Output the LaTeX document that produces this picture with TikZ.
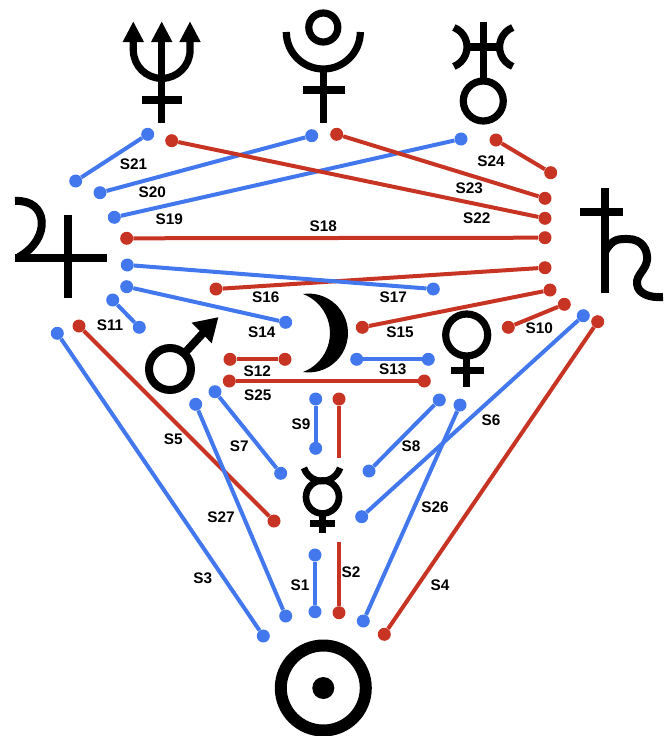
\documentclass[tikz,border=0pt]{standalone}
\usepackage{fontspec}
\setmainfont{Liberation Sans}
\definecolor{sblue}{RGB}{66,119,237}
\definecolor{sred}{RGB}{200,52,36}
\tikzset{
  bdot/.style={circle, fill=sblue, inner sep=0pt, minimum size=9.75pt},
  rdot/.style={circle, fill=sred, inner sep=0pt, minimum size=9.75pt},
  bline/.style={sblue, line width=3pt},
  rline/.style={sred, line width=3pt},
  lab/.style={font=\fontsize{11.5}{13}\selectfont\bfseries, inner sep=0pt},
  glyph/.style={line width=5.4pt, black}
}
\begin{document}
\begin{tikzpicture}[x=0.75pt, y=-0.75pt]
    \useasboundingbox (0,0) rectangle (671,736);

    % Planet glyphs
    % Neptune
    \draw[glyph] (161.7,38) -- (161.7,123);
    \draw[glyph] (141.7,100) -- (181.7,100);
    \draw[glyph] (133.3,38) -- (133.3,50) arc[start angle=180, end angle=0, radius=28.4] -- (190,38);
    \fill (133.3,21.7) -- (122.6,42) -- (144,42) -- cycle;
    \fill (161.7,21.7) -- (151,42) -- (172.4,42) -- cycle;
    \fill (190,21.7) -- (179.3,42) -- (200.7,42) -- cycle;
    % Pluto
    \draw[glyph] (323.3,27.5) circle[radius=14.5];
    \draw[glyph] (286.3,32) arc[start angle=180, end angle=0, radius=37];
    \draw[glyph] (323.3,69) -- (323.3,123);
    \draw[glyph] (303.3,90) -- (345,90);
    % Uranus
    \draw[glyph] (483.3,21.7) -- (483.3,81);
    \draw[glyph] (466,47) -- (501,47);
    \draw[glyph] (453.9,27.5) arc[start angle=-68, end angle=68, radius=21];
    \draw[glyph] (512.7,27.5) arc[start angle=248, end angle=112, radius=21];
    \draw[glyph] (483.3,101) circle[radius=20];
    % Jupiter
    \draw[glyph, line width=6pt] (15,201) .. controls (48,199) and (52,238) .. (19,257);
    \draw[glyph, line width=6pt] (15,258) -- (106.7,258);
    \draw[glyph, line width=6pt] (67.5,215) -- (67.5,298.3);
    % Saturn
    \draw[glyph, line width=6pt] (605,188.3) -- (605,293.3);
    \draw[glyph, line width=6pt] (580,212.3) -- (623.3,212.3);
    \draw[glyph, line width=6pt] (605,252) .. controls (612,238) and (620,239) .. (628,239)
        .. controls (642,239) and (648,250) .. (647,260)
        .. controls (646,270) and (636,275) .. (637,284)
        .. controls (638,294) and (650,298) .. (663,297);
    % Mars
    \draw[glyph, line width=6pt] (170,369) circle[radius=21];
    \draw[glyph, line width=6pt] (184.2,353.6) -- (205,331);
    \fill (218.3,317.3) -- (191.7,322.7) -- (211.7,343.3) -- cycle;
    % Moon
    \fill (303,294) arc[start angle=-98.2, end angle=98.2, radius=39.4]
        arc[start angle=69.3, end angle=-69.3, radius=41.7] -- cycle;
    % Venus
    \draw[glyph] (466.7,335) circle[radius=21];
    \draw[glyph] (466.7,356) -- (466.7,387.3);
    \draw[glyph] (451,370.7) -- (484.3,370.7);
    % Mercury
    \draw[glyph, line width=5pt] (340.1,467.9) arc[start angle=18, end angle=162, radius=19];
    \draw[glyph, line width=5pt] (322.5,497) circle[radius=16.5];
    \draw[glyph, line width=5pt] (322.5,513.5) -- (322.5,533.3);
    \draw[glyph, line width=5pt] (310,523.3) -- (335,523.3);
    % Sun
    \draw[glyph, line width=9pt] (323.3,688) circle[radius=42.5];
    \fill (323.3,688) circle[radius=11];

    % Segment end points
    \node[bdot] (s1a) at (315,555) {};      \node[bdot] (s1b) at (315,611.7) {};
    \coordinate (s2a) at (339,541.7);       \node[rdot] (s2b) at (339,612.7) {};
    \node[bdot] (s3a) at (57.3,333.3) {};   \node[bdot] (s3b) at (263.3,636) {};
    \node[rdot] (s4a) at (597.7,321.7) {};  \node[rdot] (s4b) at (384.3,634.3) {};
    \node[rdot] (s5a) at (79,326) {};       \node[rdot] (s5b) at (274,521) {};
    \node[bdot] (s6a) at (583.3,315.7) {};  \node[bdot] (s6b) at (361.7,516.7) {};
    \node[bdot] (s7a) at (215,391.7) {};    \node[bdot] (s7b) at (280.7,473.3) {};
    \node[bdot] (s8a) at (439.3,400) {};    \node[bdot] (s8b) at (369,471) {};
    \node[bdot] (s9a) at (315.7,399) {};    \node[bdot] (s9b) at (315.7,448.3) {};
    \node[rdot] (m9a) at (339,399) {};      \coordinate (m9b) at (339,458.3);
    \node[rdot] (s10a) at (508.3,327.3) {}; \node[rdot] (s10b) at (564.3,304.3) {};
    \node[bdot] (s11a) at (112.7,300) {};   \node[bdot] (s11b) at (139.3,327.3) {};
    \node[rdot] (s12a) at (230,359.3) {};   \node[rdot] (s12b) at (285,359.3) {};
    \node[bdot] (s13a) at (356.7,359.3) {}; \node[bdot] (s13b) at (428.3,359.3) {};
    \node[bdot] (s14a) at (126.7,286.7) {}; \node[bdot] (s14b) at (285.7,322.3) {};
    \node[rdot] (s15a) at (362.3,327.3) {}; \node[rdot] (s15b) at (550,290) {};
    \node[rdot] (s16a) at (216,289) {};     \node[rdot] (s16b) at (545,267.7) {};
    \node[bdot] (s17a) at (127.3,265) {};   \node[bdot] (s17b) at (433.3,289) {};
    \node[rdot] (s18a) at (126.7,238.3) {}; \node[rdot] (s18b) at (545,237.7) {};
    \node[bdot] (s19a) at (114.3,217.3) {}; \node[bdot] (s19b) at (461,139) {};
    \node[bdot] (s20a) at (311.7,135.7) {}; \node[bdot] (s20b) at (100,192.7) {};
    \node[bdot] (s21a) at (147.7,134.3) {}; \node[bdot] (s21b) at (75.7,181) {};
    \node[rdot] (s22a) at (171.7,140.7) {}; \node[rdot] (s22b) at (545,218.3) {};
    \node[rdot] (s23a) at (336.7,134.3) {}; \node[rdot] (s23b) at (545,198.3) {};
    \node[rdot] (s24a) at (496,140) {};     \node[rdot] (s24b) at (550.7,172.7) {};
    \node[rdot] (s25a) at (229.3,381) {};   \node[rdot] (s25b) at (424.3,381) {};
    \node[bdot] (s26a) at (460,405) {};     \node[bdot] (s26b) at (363.3,621) {};
    \node[bdot] (s27a) at (195.7,404.3) {}; \node[bdot] (s27b) at (285.7,616) {};

    % Segments
    \draw[bline] (s1a) -- (s1b);
    \draw[rline] (s2a) -- (s2b);
    \draw[bline] (s3a) -- (s3b);
    \draw[rline] (s4a) -- (s4b);
    \draw[rline] (s5a) -- (s5b);
    \draw[bline] (s6a) -- (s6b);
    \draw[bline] (s7a) -- (s7b);
    \draw[bline] (s8a) -- (s8b);
    \draw[bline] (s9a) -- (s9b);
    \draw[rline] (m9a) -- (m9b);
    \draw[rline] (s10a) -- (s10b);
    \draw[bline] (s11a) -- (s11b);
    \draw[rline] (s12a) -- (s12b);
    \draw[bline] (s13a) -- (s13b);
    \draw[bline] (s14a) -- (s14b);
    \draw[rline] (s15a) -- (s15b);
    \draw[rline] (s16a) -- (s16b);
    \draw[bline] (s17a) -- (s17b);
    \draw[rline] (s18a) -- (s18b);
    \draw[bline] (s19a) -- (s19b);
    \draw[bline] (s20a) -- (s20b);
    \draw[bline] (s21a) -- (s21b);
    \draw[rline] (s22a) -- (s22b);
    \draw[rline] (s23a) -- (s23b);
    \draw[rline] (s24a) -- (s24b);
    \draw[rline] (s25a) -- (s25b);
    \draw[bline] (s26a) -- (s26b);
    \draw[bline] (s27a) -- (s27b);

    % Labels
    \node[lab] (l1) at (300,585) {S1};
    \node[lab] (l2) at (351,572) {S2};
    \node[lab] (l3) at (202.7,578.3) {S3};
    \node[lab] (l4) at (440,585.7) {S4};
    \node[lab] (l5) at (173.3,439.3) {S5};
    \node[lab] (l6) at (491,420) {S6};
    \node[lab] (l7) at (239.3,446) {S7};
    \node[lab] (l8) at (411,446.7) {S8};
    \node[lab] (l9) at (301,424.3) {S9};
    \node[lab] (l10) at (539.3,328.7) {S10};
    \node[lab] (l11) at (110,325) {S11};
    \node[lab] (l12) at (257.3,371) {S12};
    \node[lab] (l13) at (392.7,369.3) {S13};
    \node[lab] (l14) at (261.7,332.3) {S14};
    \node[lab] (l15) at (400,332.3) {S15};
    \node[lab] (l16) at (265.7,297.7) {S16};
    \node[lab] (l17) at (393.3,297.3) {S17};
    \node[lab] (l18) at (323.3,226) {S18};
    \node[lab] (l19) at (169.3,219) {S19};
    \node[lab] (l20) at (152.3,192.7) {S20};
    \node[lab] (l21) at (133.5,164) {S21};
    \node[lab] (l22) at (476.7,218.3) {S22};
    \node[lab] (l23) at (469.3,188.3) {S23};
    \node[lab] (l24) at (491,161) {S24};
    \node[lab] (l25) at (257.7,395.7) {S25};
    \node[lab] (l26) at (435,507.7) {S26};
    \node[lab] (l27) at (221,517.3) {S27};

\end{tikzpicture}
\end{document}
